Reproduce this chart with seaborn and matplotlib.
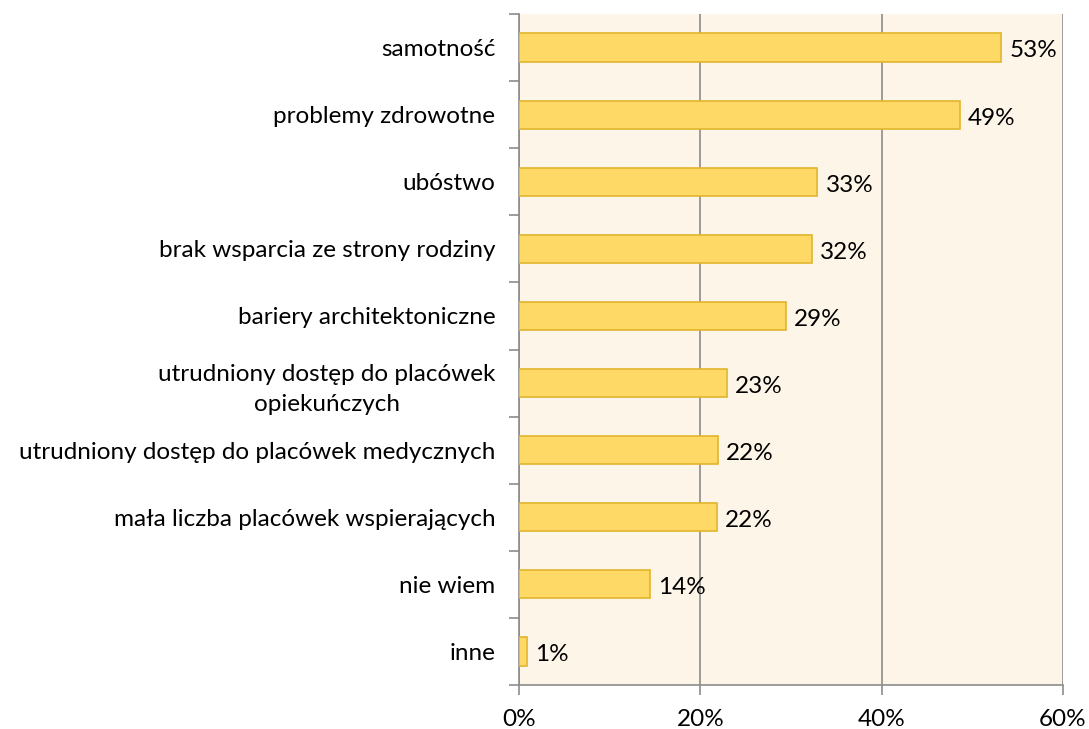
import numpy as np
import pandas as pd
import matplotlib
matplotlib.use("Agg")
import matplotlib.pyplot as plt
import seaborn as sns
from matplotlib.ticker import FixedLocator, PercentFormatter

# Data
categories = [
    "samotność",
    "problemy zdrowotne",
    "ubóstwo",
    "brak wsparcia ze strony rodziny",
    "bariery architektoniczne",
    "utrudniony dostęp do placówek\nopiekuńczych",
    "utrudniony dostęp do placówek medycznych",
    "mała liczba placówek wspierających",
    "nie wiem",
    "inne",
]
values = [53.2, 48.6, 32.9, 32.3, 29.4, 22.9, 21.9, 21.8, 14.4, 0.9]
labels = ["53%", "49%", "33%", "32%", "29%", "23%", "22%", "22%", "14%", "1%"]
x_ticks = [0, 20, 40, 60]

df = pd.DataFrame({"category": categories, "value": values})

sns.set_style("white")
plt.rcParams["font.family"] = ["Lato", "DejaVu Sans"]
fs = 17.5

fig = plt.figure(figsize=(10.89, 7.29), dpi=100)
ax = fig.add_axes([519 / 1089, 1 - 685 / 729, 544 / 1089, 671 / 729])
ax.set_facecolor("#FEF5E9")

sns.barplot(data=df, x="value", y="category", orient="h", ax=ax,
            color="#FFD966", edgecolor="#E2B52C", linewidth=1.2,
            width=0.42, saturation=1, zorder=3)

ax.set_xlim(0, 60)
ax.set_ylim(len(categories) - 0.5, -0.5)
ax.xaxis.set_major_locator(FixedLocator(x_ticks))
ax.xaxis.set_major_formatter(PercentFormatter(decimals=0))
ax.grid(axis="x", color="#8C8C8C", linewidth=1.2, zorder=0)
ax.grid(axis="y", visible=False)

for i, (v, lab) in enumerate(zip(values, labels)):
    ax.text(v + 0.9, i + 0.05, lab, va="center", ha="left", fontsize=fs, color="black")

ax.set_xlabel("")
ax.set_ylabel("")
ax.set_yticks(np.arange(-0.5, len(categories), 1), minor=True)
ax.tick_params(axis="y", which="major", left=False, length=0, pad=17,
               labelsize=fs, labelcolor="black")
ax.tick_params(axis="y", which="minor", left=True, length=7, color="#8C8C8C", width=1.2)
ax.tick_params(axis="x", which="major", bottom=True, length=7, color="#8C8C8C", width=1.2,
               labelsize=fs, labelcolor="black", pad=10)
for lbl in ax.get_yticklabels():
    lbl.set_multialignment("center")
    lbl.set_linespacing(1.55)

ax.spines["top"].set_visible(False)
ax.spines["right"].set_visible(False)
for side in ["left", "bottom"]:
    ax.spines[side].set_color("#8C8C8C")
    ax.spines[side].set_linewidth(1.2)

fig.savefig("out.png", dpi=100, facecolor="white")
